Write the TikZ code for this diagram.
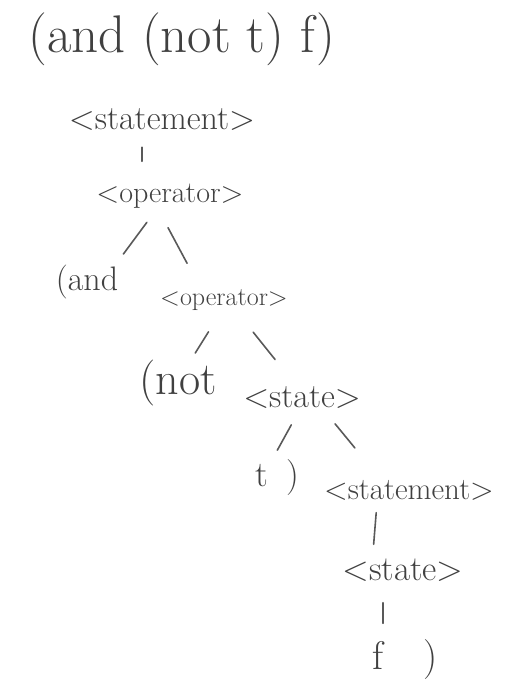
\documentclass[tikz,border=0pt]{standalone}
\newcommand\handsize[1]{\fontsize{#1}{#1}\selectfont}
\begin{document}
\begin{tikzpicture}[x=1pt,y=-1pt,
		lbl/.style={inner sep=0pt, text=black!75},
		edge/.style={draw=black!65, line width=1.6pt, line cap=round}]
	\useasboundingbox (0,0) rectangle (506,683);

	% Espressione di partenza
	\node[lbl, font=\handsize{53}] (expr) at (182,39) {(and (not t) f)};

	% Nodi dell'albero
	\node[lbl, minimum height=30pt, font=\handsize{34}] (stmtA) at (162,120) {<statement>};
	\node[lbl, minimum height=33pt, font=\handsize{30}] (opA) at (170,196) {<operator>};
	\node[lbl, minimum height=41pt, font=\handsize{34}] (andK) at (87,282) {(and};
	\node[lbl, minimum height=36pt, font=\handsize{26}] (opB) at (224,300) {<operator>};
	\node[lbl, minimum height=45pt, font=\handsize{46}] (notK) at (178,383) {(not};
	\node[lbl, minimum height=19pt, font=\handsize{34}] (stateA) at (302,398) {<state>};
	\node[lbl, minimum height=31pt, font=\handsize{36}] (tClose) at (277,478) {t\enspace)};
	\node[lbl, minimum height=25pt, font=\handsize{31}] (stmtB) at (409,490) {<statement>};
	\node[lbl, minimum height=35pt, font=\handsize{35}] (stateB) at (403,570) {<state>};
	\node[lbl, minimum height=45pt, font=\handsize{40}] (fClose) at (405,660) {f\quad)};

	% Rami
	\draw[edge, shorten <=12pt, shorten >=18pt] ([xshift=-20pt]stmtA.south) -- ([xshift=-28pt]opA.north);
	\draw[edge, shorten <=12pt, shorten >=9pt] ([xshift=-16pt]opA.south) -- ([xshift=31pt]andK.north);
	\draw[edge, shorten <=17pt, shorten >=21pt] ([xshift=-10pt]opA.south) -- ([xshift=-27pt]opB.north);
	\draw[edge, shorten <=16pt, shorten >=8pt] ([xshift=-7pt]opB.south) -- ([xshift=13pt]notK.north);
	\draw[edge, shorten <=18pt, shorten >=35pt] ([xshift=18pt]opB.south) -- ([xshift=-5pt]stateA.north);
	\draw[edge, shorten <=18pt, shorten >=11pt] ([xshift=-2pt]stateA.south) -- ([xshift=-5pt]tClose.north);
	\draw[edge, shorten <=19pt, shorten >=38pt] ([xshift=21pt]stateA.south) -- ([xshift=-30pt]stmtB.north);
	\draw[edge, shorten <=10pt, shorten >=8pt] ([xshift=-32pt]stmtB.south) -- ([xshift=-30pt]stateB.north);
	\draw[edge, shorten <=15pt, shorten >=14pt] ([xshift=-20pt]stateB.south) -- ([xshift=-22pt]fClose.north);
\end{tikzpicture}
\end{document}
